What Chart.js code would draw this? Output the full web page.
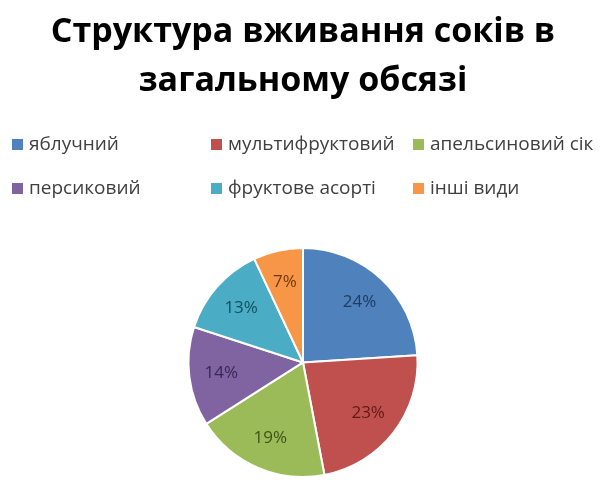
<!DOCTYPE html>
<html>
<head>
<meta charset="utf-8">
<script src="https://cdn.jsdelivr.net/npm/chart.js@4"></script>
<style>
	html, body { margin: 0; padding: 0; background: #fff; }
	#wrap { position: relative; width: 603px; height: 485px; }
	#grafico { position: absolute; left: 0; top: 0; }
	#legenda { position: absolute; left: 0; top: 0; width: 603px; height: 200px; font-family: "Open Sans", sans-serif; font-size: 19px; color: #404040; }
	.item { position: absolute; white-space: nowrap; line-height: 22px; }
	.item i { display: inline-block; width: 11px; height: 11px; margin-right: 6px; vertical-align: 0px; }
</style>
</head>
<body>
<div id="wrap">
	<canvas id="grafico" width="603" height="485"></canvas>
	<div id="legenda"></div>
</div>
<script>
var categorias = ['яблучний', 'мультифруктовий', 'апельсиновий сік', 'персиковий', 'фруктове асорті', 'інші види'];
var valores = [24, 23, 19, 14, 13, 7];
var cores = ['#4F81BD', '#C0504D', '#9BBB59', '#8064A2', '#4BACC6', '#F79646'];
var coresTexto = ['#1F3C63', '#5E1A18', '#3C5418', '#3A2656', '#154E5E', '#6E3A0C'];
var titulo = ['Структура вживання соків в', 'загальному обсязі'];

// legenda em grade, como no original
var colunas = [12, 211, 413];
var linhas = [132, 176];
var legenda = document.getElementById('legenda');
categorias.forEach(function(nome, i) {
	var div = document.createElement('div');
	div.className = 'item';
	div.style.left = colunas[i % 3] + 'px';
	div.style.top = linhas[Math.floor(i / 3)] + 'px';
	div.innerHTML = '<i style="background:' + cores[i] + '"></i>' + nome;
	legenda.appendChild(div);
});

var rotulosFatias = {
	id: 'rotulosFatias',
	afterDatasetsDraw: function(chart) {
		var ctx = chart.ctx;
		var meta = chart.getDatasetMeta(0);
		ctx.save();
		ctx.font = '17px "Open Sans", sans-serif';
		ctx.textAlign = 'center';
		ctx.textBaseline = 'middle';
		meta.data.forEach(function(arc, i) {
			var p = arc.getProps(['x', 'y', 'startAngle', 'endAngle', 'outerRadius']);
			var ang = (p.startAngle + p.endAngle) / 2;
			var r = p.outerRadius * 0.72;
			ctx.fillStyle = coresTexto[i];
			ctx.fillText(valores[i] + '%', p.x + Math.cos(ang) * r, p.y + Math.sin(ang) * r);
		});
		ctx.restore();
	}
};

new Chart(document.getElementById('grafico').getContext('2d'), {
	type: 'pie',
	data: {
		labels: categorias,
		datasets: [{
			data: valores,
			backgroundColor: cores,
			borderColor: '#fff',
			borderWidth: 2
		}]
	},
	options: {
		responsive: false,
		animation: false,
		layout: { padding: { top: 0, bottom: 7, left: 3, right: 0 } },
		plugins: {
			legend: { display: false },
			tooltip: { enabled: false },
			title: {
				display: true,
				text: titulo,
				color: '#000',
				font: { family: '"Open Sans", sans-serif', size: 34, weight: 'bold', lineHeight: 1.44 },
				padding: { top: 8, bottom: 141 }
			}
		}
	},
	plugins: [rotulosFatias]
});
</script>
</body>
</html>
